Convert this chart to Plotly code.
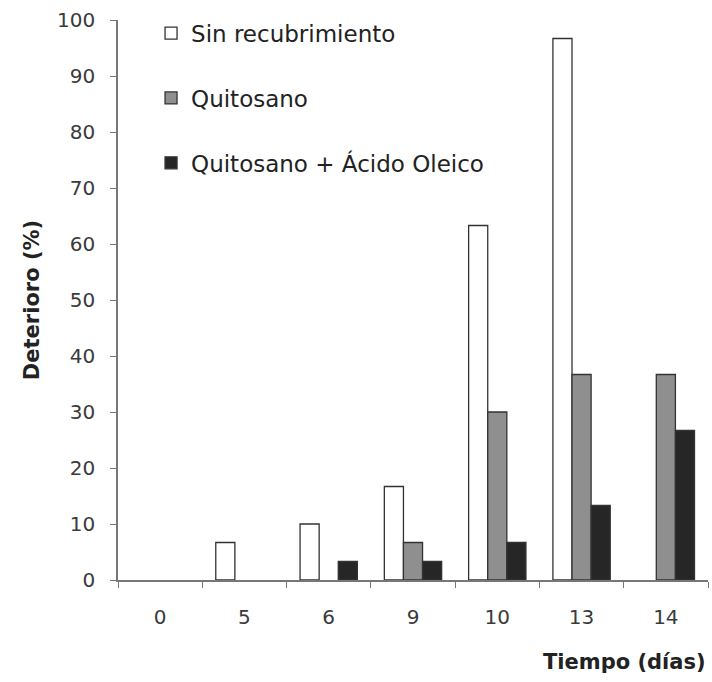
import plotly.graph_objects as go

# Días de almacenamiento y porcentaje de deterioro por tratamiento
dias = ["0", "5", "6", "9", "10", "13", "14"]
sin_recubrimiento = [0, 6.7, 10.0, 16.7, 63.3, 96.7, 0]
quitosano = [0, 0, 0, 6.7, 30.0, 36.7, 36.7]
quitosano_oleico = [0, 0, 3.3, 3.3, 6.7, 13.3, 26.7]

series = [
    ("Sin recubrimiento", sin_recubrimiento, "#ffffff"),
    ("Quitosano", quitosano, "#8f8f8f"),
    ("Quitosano + Ácido Oleico", quitosano_oleico, "#262626"),
]

FONT = "DejaVu Sans, Liberation Sans, Arial, sans-serif"
BORDE = "#333333"

fig = go.Figure()
for i, (nombre, valores, color) in enumerate(series):
    # sin contorno donde el deterioro es nulo
    bordes = [0 if v == 0 else 1.3 for v in valores]
    fig.add_trace(go.Bar(
        x=dias, y=valores, name=nombre, legendgroup=f"g{i}", offsetgroup=f"g{i}",
        showlegend=False,
        marker=dict(color=color, line=dict(color=BORDE, width=bordes)),
    ))
    # entrada de leyenda con contorno uniforme
    fig.add_trace(go.Bar(
        x=[None], y=[None], name=nombre, legendgroup=f"g{i}", offsetgroup=f"g{i}",
        showlegend=True, hoverinfo="skip",
        marker=dict(color=color, line=dict(color=BORDE, width=1.3)),
    ))

fig.update_layout(
    width=712, height=682,
    margin=dict(l=118, r=4, t=20, b=102),
    paper_bgcolor="white", plot_bgcolor="white",
    font=dict(family=FONT, size=20, color="#333333"),
    barmode="group", bargap=0.32, bargroupgap=0,
    showlegend=True,
    legend=dict(
        x=0.056, y=1.015, xanchor="left", yanchor="top",
        bgcolor="rgba(0,0,0,0)", font=dict(family=FONT, size=23, color="#222222"),
        tracegroupgap=32, itemwidth=30,
    ),
    xaxis=dict(
        type="category", tickson="boundaries", ticks="outside", ticklen=6,
        tickcolor="#777777", showline=True, linecolor="#777777", linewidth=1.5,
        showgrid=False, zeroline=False, ticklabelstandoff=18,
        tickfont=dict(family=FONT, size=20, color="#3a3a3a"),
    ),
    yaxis=dict(
        range=[0, 100], dtick=10, ticks="outside", ticklen=6, tickcolor="#777777",
        showline=True, linecolor="#777777", linewidth=1.5, showgrid=False,
        zeroline=False, ticklabelstandoff=11,
        tickfont=dict(family=FONT, size=20, color="#3a3a3a"),
        title=dict(text="<b>Deterioro (%)</b>",
                   font=dict(family=FONT, size=21, color="#222222"), standoff=12),
    ),
    annotations=[dict(
        text="<b>Tiempo (días)</b>", xref="paper", yref="paper",
        x=1.0, y=0, xanchor="right", yanchor="top", yshift=-68, showarrow=False,
        font=dict(family=FONT, size=21, color="#222222"),
    )],
)

fig.write_html("out.html")
